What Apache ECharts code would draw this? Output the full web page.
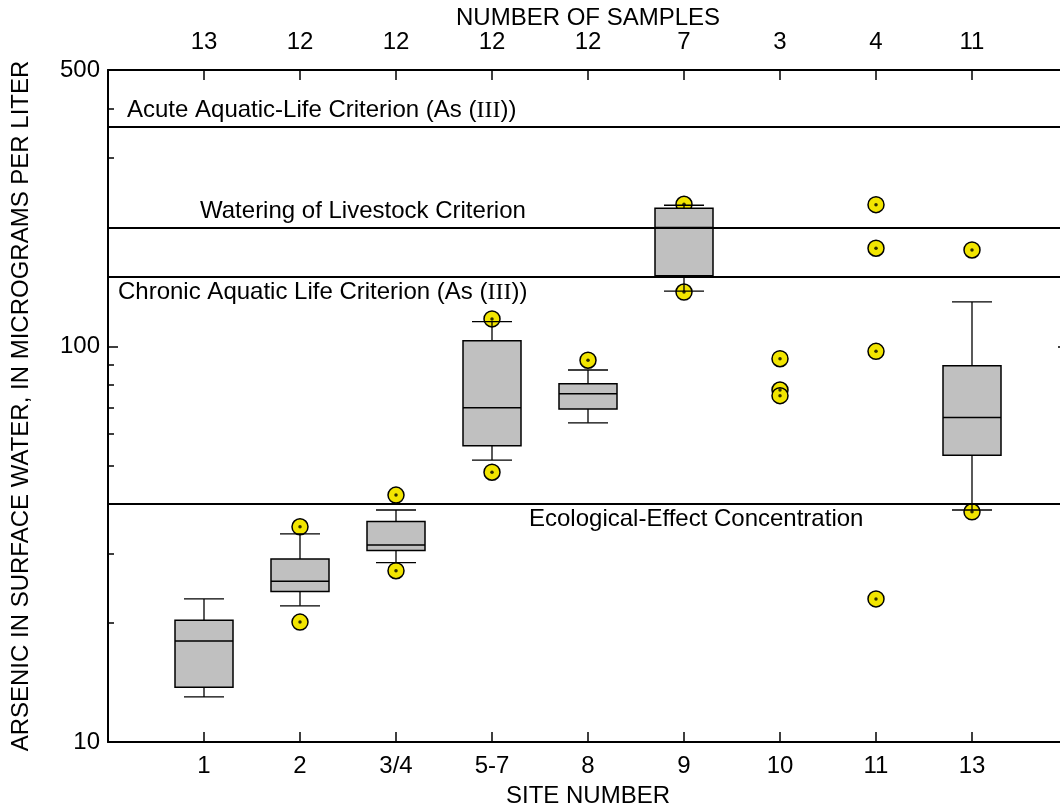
<!DOCTYPE html>
<html>
<head>
<meta charset="utf-8">
<script src="https://cdn.jsdelivr.net/npm/echarts@6/dist/echarts.min.js"></script>
<style>
  html, body { margin: 0; padding: 0; background: #fff; }
  #chart { width: 1060px; height: 810px; }
</style>
</head>
<body>
<div id="chart"></div>
<script>
const sites = ['1', '2', '3/4', '5-7', '8', '9', '10', '11', '13']
const sampleCounts = [13, 12, 12, 12, 12, 7, 3, 4, 11]

// box statistics per site, null where there are too few samples for a box
const whiskerLow = [13.0, 22.1, 28.4, 51.6, 64.1, 138, null, null, 38.6]
const q1 = [13.75, 24.0, 30.5, 56.1, 69.5, 151, null, null, 53.1]
const median = [18.0, 25.5, 31.5, 70.0, 75.9, 200, null, null, 66.1]
const q3 = [20.3, 29.0, 36.1, 103.4, 80.5, 223.6, null, null, 89.4]
const whiskerHigh = [23.0, 33.6, 38.6, 115.5, 87.2, 227.5, null, null, 129.6]

// values drawn as circles: [site, value]
const outliers = [
  ['2', 35.0], ['2', 20.1],
  ['3/4', 42.1], ['3/4', 27.1],
  ['5-7', 117.4], ['5-7', 48.1],
  ['8', 92.3],
  ['9', 228.8], ['9', 137.3],
  ['10', 93.1], ['10', 77.6], ['10', 75.1],
  ['11', 228.3], ['11', 177.2], ['11', 97.2], ['11', 23.0],
  ['13', 175.4], ['13', 38.2]
]

const criterionNames = [
  'Acute Aquatic-Life Criterion (As ({r|III}))',
  'Watering of Livestock Criterion',
  'Chronic Aquatic Life Criterion (As ({r|III}))',
  'Ecological-Effect Concentration'
]
const criterionValues = [360, 200, 150, 40]

const yLabelValues = [10, 100, 500]
const yMinorTicks = [20, 30, 40, 50, 60, 70, 80, 90, 200, 300, 400]

const FONT = "'Liberation Sans', Arial, Helvetica, sans-serif"
const BOX_W = 58
const CAP_W = 40

// where each criterion label sits: [position, dx, dy]
const labelPlace = [
  ['insideStartTop', 19, 4],
  ['insideStartTop', 92, 4],
  ['insideStartBottom', 10, 4],
  ['insideStartBottom', 421, 4]
]

const pos = s => sites.indexOf(s) + 1

const boxData = []
sites.forEach((s, i) => {
  if (q1[i] == null) return
  boxData.push([i + 1, whiskerLow[i], q1[i], median[i], q3[i], whiskerHigh[i]])
})

const outlierData = outliers.map(d => [pos(d[0]), d[1]])

function renderBox(params, api) {
  const x = api.value(0)
  const lo = api.coord([x, api.value(1)])
  const b1 = api.coord([x, api.value(2)])
  const md = api.coord([x, api.value(3)])
  const b3 = api.coord([x, api.value(4)])
  const hi = api.coord([x, api.value(5)])
  const cx = lo[0]
  const seg = (x1, y1, x2, y2, w) => ({
    type: 'line',
    shape: { x1, y1, x2, y2 },
    style: { stroke: '#000', lineWidth: w || 1.3 }
  })
  return {
    type: 'group',
    children: [
      seg(cx, hi[1], cx, b3[1]),
      seg(cx, b1[1], cx, lo[1]),
      seg(cx - CAP_W / 2, hi[1], cx + CAP_W / 2, hi[1]),
      seg(cx - CAP_W / 2, lo[1], cx + CAP_W / 2, lo[1]),
      {
        type: 'rect',
        shape: { x: cx - BOX_W / 2, y: b3[1], width: BOX_W, height: b1[1] - b3[1] },
        style: { fill: '#c0c0c0', stroke: '#000', lineWidth: 1.5 }
      },
      seg(cx - BOX_W / 2, md[1], cx + BOX_W / 2, md[1], 1.5)
    ]
  }
}

const textBase = { color: '#000', fontFamily: FONT, fontSize: 24 }

const chart = echarts.init(document.getElementById('chart'))
chart.setOption({
  animation: false,
  backgroundColor: '#fff',
  textStyle: { fontFamily: FONT },
  grid: { left: 108, top: 70, width: 960, height: 672, outerBoundsMode: 'none', containLabel: false },
  xAxis: [
    {
      type: 'value',
      position: 'bottom',
      min: 0,
      max: 10,
      interval: 1,
      name: 'SITE NUMBER',
      nameLocation: 'middle',
      nameGap: 42,
      nameMoveOverlap: false,
      nameTextStyle: textBase,
      axisLine: { onZero: false, lineStyle: { color: '#000', width: 2 } },
      axisTick: { inside: true, length: 10, lineStyle: { color: '#000', width: 1.5 } },
      axisLabel: { ...textBase, margin: 12, formatter: v => sites[v - 1] || '' },
      splitLine: { show: false }
    },
    {
      type: 'value',
      position: 'top',
      min: 0,
      max: 10,
      interval: 1,
      name: 'NUMBER OF SAMPLES',
      nameLocation: 'middle',
      nameGap: 40,
      nameMoveOverlap: false,
      nameTextStyle: textBase,
      axisLine: { onZero: false, lineStyle: { color: '#000', width: 2 } },
      axisTick: { inside: true, length: 10, lineStyle: { color: '#000', width: 1.5 } },
      axisLabel: { ...textBase, margin: 16, formatter: v => (sampleCounts[v - 1] != null ? String(sampleCounts[v - 1]) : '') },
      splitLine: { show: false }
    }
  ],
  yAxis: [
    {
      type: 'log',
      logBase: 10,
      position: 'left',
      min: 10,
      max: 500,
      name: 'ARSENIC IN SURFACE WATER, IN MICROGRAMS PER LITER',
      nameLocation: 'middle',
      nameRotate: 90,
      nameGap: 75,
      nameMoveOverlap: false,
      nameTextStyle: textBase,
      axisLine: { onZero: false, lineStyle: { color: '#000', width: 2 } },
      axisTick: { inside: true, length: 10, customValues: yLabelValues, lineStyle: { color: '#000', width: 1.5 } },
      axisLabel: { ...textBase, margin: 8, customValues: yLabelValues },
      splitLine: { show: false }
    },
    {
      type: 'log',
      logBase: 10,
      position: 'left',
      min: 10,
      max: 500,
      axisLine: { show: false, onZero: false },
      axisTick: { inside: true, length: 6, customValues: yMinorTicks, lineStyle: { color: '#000', width: 1.5 } },
      axisLabel: { show: false },
      splitLine: { show: false }
    },
    {
      type: 'log',
      logBase: 10,
      position: 'right',
      min: 10,
      max: 500,
      axisLine: { onZero: false, lineStyle: { color: '#000', width: 2 } },
      axisTick: { inside: true, length: 10, customValues: yLabelValues, lineStyle: { color: '#000', width: 1.5 } },
      axisLabel: { show: false },
      splitLine: { show: false }
    }
  ],
  series: [
    {
      name: 'values',
      type: 'scatter',
      xAxisIndex: 0,
      yAxisIndex: 0,
      z: 2,
      symbol: 'circle',
      symbolSize: 16,
      itemStyle: { color: '#f2e500', borderColor: '#000', borderWidth: 1.5, opacity: 1 },
      data: outlierData,
      markLine: {
        silent: true,
        symbol: 'none',
        lineStyle: { color: '#000', width: 1.8, type: 'solid' },
        data: criterionValues.map((v, i) => ({
          yAxis: v,
          label: {
            show: true,
            position: labelPlace[i][0],
            distance: [labelPlace[i][1], labelPlace[i][2]],
            formatter: criterionNames[i],
            ...textBase,
            rich: { r: { fontFamily: "'Liberation Serif', 'DejaVu Serif', serif", fontSize: 24, color: '#000' } }
          }
        }))
      }
    },
    {
      name: 'dots',
      type: 'scatter',
      xAxisIndex: 0,
      yAxisIndex: 0,
      z: 3,
      symbol: 'circle',
      symbolSize: 3.5,
      itemStyle: { color: '#000' },
      data: outlierData
    },
    {
      name: 'boxes',
      type: 'custom',
      xAxisIndex: 0,
      yAxisIndex: 0,
      z: 4,
      renderItem: renderBox,
      encode: { x: 0, y: [1, 2, 3, 4, 5] },
      data: boxData
    }
  ]
})
</script>
</body>
</html>
